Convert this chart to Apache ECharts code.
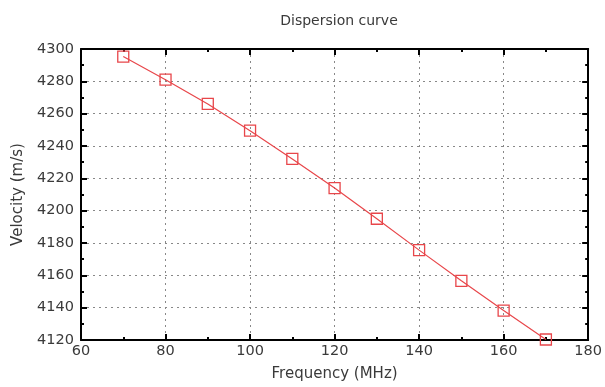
<!DOCTYPE html>
<html>
<head>
<meta charset="utf-8">
<script src="https://cdn.jsdelivr.net/npm/echarts@6/dist/echarts.min.js"></script>
<style>
html,body{margin:0;padding:0;background:#fff;}
#chart{width:605px;height:387px;}
</style>
</head>
<body>
<div id="chart"></div>
<script>
const frequency = [70, 80, 90, 100, 110, 120, 130, 140, 150, 160, 170];
const velocity = [4295.3, 4281, 4266, 4249.5, 4232, 4214, 4195, 4175.6, 4156.6, 4138.2, 4120.3];
const titleText = 'Dispersion curve';
const xName = 'Frequency (MHz)';
const yName = 'Velocity (m/s)';

const FONT = 'DejaVu Sans';
const TXT = '#3a3a3a';
const RED = '#e8464a';

const chart = echarts.init(document.getElementById('chart'));
const tickBase = {
  axisLine: {show: true, onZero: false, lineStyle: {color: '#000', width: 2}},
  axisTick: {show: true, inside: true, length: 6, lineStyle: {color: '#000', width: 2}},
  minorTick: {show: true, splitNumber: 2, length: 3, lineStyle: {color: '#000', width: 2}}
};
chart.setOption({
  animation: false,
  title: {
    text: titleText, left: 334, top: 9, textAlign: 'center',
    textStyle: {fontFamily: FONT, fontSize: 14, fontWeight: 'normal', color: TXT}
  },
  grid: {left: 81, right: 14, top: 49, bottom: 42},
  xAxis: [{
    type: 'value', min: 60, max: 180, interval: 20, position: 'bottom',
    name: xName, nameLocation: 'middle', nameGap: 27,
    nameTextStyle: {fontFamily: FONT, fontSize: 15, color: TXT},
    axisLabel: {fontFamily: FONT, fontSize: 14.5, color: TXT, margin: 4, formatter: v => String(v)},
    splitLine: {show: true, lineStyle: {color: '#888', width: 1, type: [2, 4]}},
    ...tickBase
  }, {
    type: 'value', min: 60, max: 180, interval: 20, position: 'top',
    axisLabel: {show: false}, splitLine: {show: false},
    ...tickBase
  }],
  yAxis: [{
    type: 'value', min: 4120, max: 4300, interval: 20, position: 'left',
    name: yName, nameLocation: 'middle', nameGap: 55,
    nameTextStyle: {fontFamily: FONT, fontSize: 15, color: TXT},
    axisLabel: {fontFamily: FONT, fontSize: 14.5, color: TXT, margin: 7, formatter: v => String(v)},
    splitLine: {show: true, lineStyle: {color: '#888', width: 1, type: [2, 4]}},
    ...tickBase
  }, {
    type: 'value', min: 4120, max: 4300, interval: 20, position: 'right',
    axisLabel: {show: false}, splitLine: {show: false},
    ...tickBase
  }],
  series: [{
    type: 'line',
    xAxisIndex: 0, yAxisIndex: 0,
    data: frequency.map((f, i) => [f, velocity[i]]),
    clip: false,
    symbol: 'rect', symbolSize: 11,
    lineStyle: {color: RED, width: 1.2},
    itemStyle: {color: 'rgba(0,0,0,0)', borderColor: RED, borderWidth: 1.3},
    z: 5
  }]
});
</script>
</body>
</html>
